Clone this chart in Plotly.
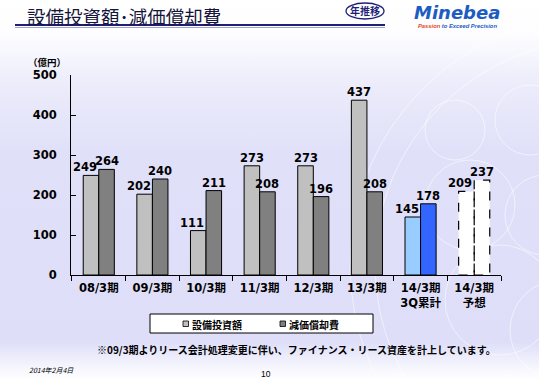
import base64
import plotly.graph_objects as go

# ---------------- data ----------------
categories = ["08/3期", "09/3期", "10/3期", "11/3期", "12/3期", "13/3期",
              "14/3期<br>3Q累計", "14/3期<br>予想"]
capex = [249, 202, 111, 273, 273, 437, 145, 209]          # 設備投資額
depreciation = [264, 240, 211, 208, 196, 208, 178, 237]   # 減価償却費
series_names = ["設備投資額", "減価償却費"]
capex_colors = ["#C0C0C0"] * 6 + ["#99CCFF", "#FFFFFF"]
depr_colors = ["#808080"] * 6 + ["#3366FF", "#FFFFFF"]
forecast_index = 7
y_ticks = [0, 100, 200, 300, 400, 500]

W, H = 539, 380


def px(x):
    return x / W


def py(y):
    return 1 - y / H


BAR_W = 0.29
NUM_FONT = "DejaVu Sans, Noto Sans CJK JP"
JP_FONT = "Noto Sans CJK JP, DejaVu Sans"
LABEL_FONT = dict(family=NUM_FONT, size=11.5, color="#000000", weight="bold")

# ---------------- background (gradient + decorative rings) ----------------
svg = f'''<svg xmlns="http://www.w3.org/2000/svg" width="{W}" height="{H}" viewBox="0 0 {W} {H}">
<defs>
<linearGradient id="g" x1="0" y1="0" x2="0" y2="1">
<stop offset="0" stop-color="#ffffff"/>
<stop offset="0.09" stop-color="#fdfdff"/>
<stop offset="0.22" stop-color="#ececfb"/>
<stop offset="0.40" stop-color="#e0e0f9"/>
<stop offset="0.90" stop-color="#dedef9"/>
<stop offset="0.955" stop-color="#f2f2fd"/>
<stop offset="1" stop-color="#ffffff"/>
</linearGradient>
</defs>
<rect x="0" y="0" width="{W}" height="{H}" fill="url(#g)"/>
<g fill="none" stroke="#ffffff" stroke-opacity="0.55" stroke-width="1">
<circle cx="600" cy="265" r="250"/>
<circle cx="600" cy="265" r="225"/>
<circle cx="455" cy="130" r="30"/>
<circle cx="530" cy="120" r="35"/>
<circle cx="470" cy="205" r="45"/>
<circle cx="545" cy="215" r="40"/>
<circle cx="500" cy="300" r="55"/>
<circle cx="560" cy="330" r="50"/>
</g>
</svg>'''
bg_uri = "data:image/svg+xml;base64," + base64.b64encode(svg.encode("utf-8")).decode()

fig = go.Figure()

line_w_capex = [1] * len(capex)
line_w_capex[forecast_index] = 0
line_w_depr = [1] * len(depreciation)
line_w_depr[forecast_index] = 0

fig.add_trace(go.Bar(
    x=categories, y=capex, name=series_names[0],
    width=BAR_W, offset=-BAR_W,
    marker=dict(color=capex_colors, line=dict(color="#000000", width=line_w_capex)),
    showlegend=False, hoverinfo="x+y",
))
fig.add_trace(go.Bar(
    x=categories, y=depreciation, name=series_names[1],
    width=BAR_W, offset=0,
    marker=dict(color=depr_colors, line=dict(color="#000000", width=line_w_depr)),
    showlegend=False, hoverinfo="x+y",
))

shapes = []
# dashed outlines for the forecast bars (derived from data)
shapes.append(dict(type="rect", xref="x", yref="y",
                   x0=forecast_index - BAR_W, x1=forecast_index,
                   y0=0, y1=capex[forecast_index],
                   line=dict(color="#000000", width=1.2, dash="dash"), layer="above"))
shapes.append(dict(type="rect", xref="x", yref="y",
                   x0=forecast_index, x1=forecast_index + BAR_W,
                   y0=0, y1=depreciation[forecast_index],
                   line=dict(color="#000000", width=1.2, dash="dash"), layer="above"))

# title underline
shapes.append(dict(type="line", xref="paper", yref="paper",
                   x0=px(15), x1=px(385), y0=py(25), y1=py(25),
                   line=dict(color="#1f1f7a", width=2)))
shapes.append(dict(type="line", xref="paper", yref="paper",
                   x0=px(15), x1=px(385), y0=py(27.5), y1=py(27.5),
                   line=dict(color="#8a8ac8", width=0.8)))
# 年推移 badge
shapes.append(dict(type="circle", xref="paper", yref="paper",
                   x0=px(346), x1=px(384), y0=py(19), y1=py(3),
                   line=dict(color="#1f1f7a", width=1.3), fillcolor="#ffffff"))

# legend box
shapes.append(dict(type="rect", xref="paper", yref="paper",
                   x0=px(150), x1=px(373), y0=py(333), y1=py(314),
                   line=dict(color="#000000", width=1), fillcolor="#ffffff"))
legend_x = [183, 280]
for lx, col in zip(legend_x, [capex_colors[0], depr_colors[0]]):
    shapes.append(dict(type="rect", xref="paper", yref="paper",
                       x0=px(lx), x1=px(lx + 5.5), y0=py(326.5), y1=py(321),
                       line=dict(color="#000000", width=0.8), fillcolor=col))

annotations = []
# value labels above the bars (drawn above all bars so nothing hides them)
for i, (a, d) in enumerate(zip(capex, depreciation)):
    annotations.append(dict(text=str(a), x=i - BAR_W / 2, y=a, xref="x", yref="y",
                            xanchor="center", yanchor="bottom", showarrow=False,
                            xshift=-6 if d > a else 0, yshift=-1, font=LABEL_FONT))
    annotations.append(dict(text=str(d), x=i + BAR_W / 2, y=d, xref="x", yref="y",
                            xanchor="center", yanchor="bottom", showarrow=False,
                            yshift=-1, font=LABEL_FONT))

annotations += [
    dict(text="設備投資額･減価償却費", x=px(25), y=py(16), xref="paper", yref="paper",
         xanchor="left", yanchor="middle", showarrow=False,
         font=dict(family=JP_FONT, size=18.5, color="#15153a")),
    dict(text="<b>年推移</b>", x=px(365), y=py(11), xref="paper", yref="paper",
         xanchor="center", yanchor="middle", showarrow=False,
         font=dict(family=JP_FONT, size=10, color="#1f1f7a")),
    dict(text="<b><i>Minebea</i></b>", x=px(457), y=py(13), xref="paper", yref="paper",
         xanchor="center", yanchor="middle", showarrow=False,
         font=dict(family="DejaVu Sans", size=18, color="#1d5cc2")),
    dict(text="<b><i><span style='color:#e8461c'>Passion</span> to Exceed Precision</i></b>",
         x=px(457), y=py(26), xref="paper", yref="paper",
         xanchor="center", yanchor="middle", showarrow=False,
         font=dict(family="Liberation Sans, Arial", size=5.8, color="#1d5cc2")),
    dict(text="<b>（億円）</b>", x=px(47), y=py(62), xref="paper", yref="paper",
         xanchor="center", yanchor="middle", showarrow=False,
         font=dict(family=JP_FONT, size=9.5, color="#000000")),
    dict(text="<b>" + series_names[0] + "</b>", x=px(legend_x[0] + 7), y=py(324),
         xref="paper", yref="paper", xanchor="left", yanchor="middle", showarrow=False,
         font=dict(family=JP_FONT, size=10, color="#000000")),
    dict(text="<b>" + series_names[1] + "</b>", x=px(legend_x[1] + 7), y=py(324),
         xref="paper", yref="paper", xanchor="left", yanchor="middle", showarrow=False,
         font=dict(family=JP_FONT, size=10, color="#000000")),
    dict(text="<b>※09/3期よりリース会計処理変更に伴い、ファイナンス・リース資産を計上しています。</b>",
         x=px(296), y=py(349), xref="paper", yref="paper",
         xanchor="center", yanchor="middle", showarrow=False,
         font=dict(family=JP_FONT, size=10, color="#000000")),
    dict(text="<i>2014年2月4日</i>", x=px(27), y=py(370), xref="paper", yref="paper",
         xanchor="left", yanchor="middle", showarrow=False,
         font=dict(family=JP_FONT, size=7, color="#000000")),
    dict(text="10", x=px(266), y=py(374), xref="paper", yref="paper",
         xanchor="center", yanchor="middle", showarrow=False,
         font=dict(family="Liberation Sans, Arial", size=8.5, color="#000000")),
]

fig.update_layout(
    width=W, height=H,
    margin=dict(l=0, r=0, t=0, b=0, autoexpand=False),
    paper_bgcolor="#ffffff",
    plot_bgcolor="rgba(0,0,0,0)",
    barmode="group",
    showlegend=False,
    images=[dict(source=bg_uri, xref="paper", yref="paper", x=0, y=1,
                 sizex=1, sizey=1, sizing="stretch", layer="below",
                 xanchor="left", yanchor="top")],
    xaxis=dict(
        domain=[px(71), px(501)],
        type="category", automargin=False,
        showline=True, linecolor="#000000", linewidth=1,
        ticks="outside", tickson="boundaries", ticklen=5, tickcolor="#000000",
        showgrid=False,
        tickfont=dict(family=NUM_FONT, size=11.5, color="#000000", weight="bold"),
        ticklabelstandoff=2,
    ),
    yaxis=dict(
        domain=[py(275), py(75)],
        range=[0, 500], automargin=False,
        tickvals=y_ticks,
        showline=True, linecolor="#000000", linewidth=1,
        ticks="inside", ticklen=5, tickcolor="#000000",
        showgrid=False, zeroline=False,
        tickfont=dict(family=NUM_FONT, size=11.5, color="#000000", weight="bold"),
        ticklabelstandoff=11,
    ),
    shapes=shapes,
    annotations=annotations,
)

fig.write_html(
    "out.html",
    config={"displayModeBar": False},
    post_script="document.body.style.margin='0';document.body.style.overflow='hidden';",
)
